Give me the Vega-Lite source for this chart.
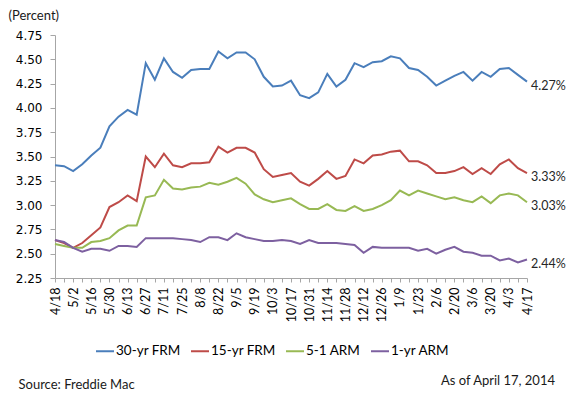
{
  "$schema": "https://vega.github.io/schema/vega-lite/v6.json",
  "width": 472,
  "height": 243,
  "autosize": {"type": "none"},
  "padding": {"left": 55, "top": 35, "right": 53, "bottom": 120},
  "background": "white",
  "config": {"view": {"stroke": null}, "font": "Lato"},
  "title": {
    "text": "As of April 17, 2014",
    "orient": "bottom",
    "anchor": "end",
    "frame": "group",
    "font": "Lato",
    "fontSize": 13,
    "fontWeight": "normal",
    "color": "#1a1a1a",
    "offset": 0,
    "dx": 28,
    "dy": -16
  },
  "data": {
    "values": [
      {"week": "4/18", "30-yr FRM": 3.41, "15-yr FRM": 2.64, "5-1 ARM": 2.60, "1-yr ARM": 2.64},
      {"week": "4/25", "30-yr FRM": 3.40, "15-yr FRM": 2.61, "5-1 ARM": 2.58, "1-yr ARM": 2.62},
      {"week": "5/2", "30-yr FRM": 3.35, "15-yr FRM": 2.56, "5-1 ARM": 2.56, "1-yr ARM": 2.56},
      {"week": "5/9", "30-yr FRM": 3.42, "15-yr FRM": 2.61, "5-1 ARM": 2.56, "1-yr ARM": 2.52},
      {"week": "5/16", "30-yr FRM": 3.51, "15-yr FRM": 2.69, "5-1 ARM": 2.62, "1-yr ARM": 2.55},
      {"week": "5/23", "30-yr FRM": 3.59, "15-yr FRM": 2.77, "5-1 ARM": 2.63, "1-yr ARM": 2.55},
      {"week": "5/30", "30-yr FRM": 3.81, "15-yr FRM": 2.98, "5-1 ARM": 2.66, "1-yr ARM": 2.53},
      {"week": "6/6", "30-yr FRM": 3.91, "15-yr FRM": 3.03, "5-1 ARM": 2.74, "1-yr ARM": 2.58},
      {"week": "6/13", "30-yr FRM": 3.98, "15-yr FRM": 3.10, "5-1 ARM": 2.79, "1-yr ARM": 2.58},
      {"week": "6/20", "30-yr FRM": 3.93, "15-yr FRM": 3.04, "5-1 ARM": 2.79, "1-yr ARM": 2.57},
      {"week": "6/27", "30-yr FRM": 4.46, "15-yr FRM": 3.50, "5-1 ARM": 3.08, "1-yr ARM": 2.66},
      {"week": "7/4", "30-yr FRM": 4.29, "15-yr FRM": 3.39, "5-1 ARM": 3.10, "1-yr ARM": 2.66},
      {"week": "7/11", "30-yr FRM": 4.51, "15-yr FRM": 3.53, "5-1 ARM": 3.26, "1-yr ARM": 2.66},
      {"week": "7/18", "30-yr FRM": 4.37, "15-yr FRM": 3.41, "5-1 ARM": 3.17, "1-yr ARM": 2.66},
      {"week": "7/25", "30-yr FRM": 4.31, "15-yr FRM": 3.39, "5-1 ARM": 3.16, "1-yr ARM": 2.65},
      {"week": "8/1", "30-yr FRM": 4.39, "15-yr FRM": 3.43, "5-1 ARM": 3.18, "1-yr ARM": 2.64},
      {"week": "8/8", "30-yr FRM": 4.40, "15-yr FRM": 3.43, "5-1 ARM": 3.19, "1-yr ARM": 2.62},
      {"week": "8/15", "30-yr FRM": 4.40, "15-yr FRM": 3.44, "5-1 ARM": 3.23, "1-yr ARM": 2.67},
      {"week": "8/22", "30-yr FRM": 4.58, "15-yr FRM": 3.60, "5-1 ARM": 3.21, "1-yr ARM": 2.67},
      {"week": "8/29", "30-yr FRM": 4.51, "15-yr FRM": 3.54, "5-1 ARM": 3.24, "1-yr ARM": 2.64},
      {"week": "9/5", "30-yr FRM": 4.57, "15-yr FRM": 3.59, "5-1 ARM": 3.28, "1-yr ARM": 2.71},
      {"week": "9/12", "30-yr FRM": 4.57, "15-yr FRM": 3.59, "5-1 ARM": 3.22, "1-yr ARM": 2.67},
      {"week": "9/19", "30-yr FRM": 4.50, "15-yr FRM": 3.54, "5-1 ARM": 3.11, "1-yr ARM": 2.65},
      {"week": "9/26", "30-yr FRM": 4.32, "15-yr FRM": 3.37, "5-1 ARM": 3.06, "1-yr ARM": 2.63},
      {"week": "10/3", "30-yr FRM": 4.22, "15-yr FRM": 3.29, "5-1 ARM": 3.03, "1-yr ARM": 2.63},
      {"week": "10/10", "30-yr FRM": 4.23, "15-yr FRM": 3.31, "5-1 ARM": 3.05, "1-yr ARM": 2.64},
      {"week": "10/17", "30-yr FRM": 4.28, "15-yr FRM": 3.33, "5-1 ARM": 3.07, "1-yr ARM": 2.63},
      {"week": "10/24", "30-yr FRM": 4.13, "15-yr FRM": 3.24, "5-1 ARM": 3.01, "1-yr ARM": 2.60},
      {"week": "10/31", "30-yr FRM": 4.10, "15-yr FRM": 3.20, "5-1 ARM": 2.96, "1-yr ARM": 2.64},
      {"week": "11/7", "30-yr FRM": 4.16, "15-yr FRM": 3.27, "5-1 ARM": 2.96, "1-yr ARM": 2.61},
      {"week": "11/14", "30-yr FRM": 4.35, "15-yr FRM": 3.35, "5-1 ARM": 3.01, "1-yr ARM": 2.61},
      {"week": "11/21", "30-yr FRM": 4.22, "15-yr FRM": 3.27, "5-1 ARM": 2.95, "1-yr ARM": 2.61},
      {"week": "11/28", "30-yr FRM": 4.29, "15-yr FRM": 3.30, "5-1 ARM": 2.94, "1-yr ARM": 2.60},
      {"week": "12/5", "30-yr FRM": 4.46, "15-yr FRM": 3.47, "5-1 ARM": 2.99, "1-yr ARM": 2.59},
      {"week": "12/12", "30-yr FRM": 4.42, "15-yr FRM": 3.43, "5-1 ARM": 2.94, "1-yr ARM": 2.51},
      {"week": "12/19", "30-yr FRM": 4.47, "15-yr FRM": 3.51, "5-1 ARM": 2.96, "1-yr ARM": 2.57},
      {"week": "12/26", "30-yr FRM": 4.48, "15-yr FRM": 3.52, "5-1 ARM": 3.00, "1-yr ARM": 2.56},
      {"week": "1/2", "30-yr FRM": 4.53, "15-yr FRM": 3.55, "5-1 ARM": 3.05, "1-yr ARM": 2.56},
      {"week": "1/9", "30-yr FRM": 4.51, "15-yr FRM": 3.56, "5-1 ARM": 3.15, "1-yr ARM": 2.56},
      {"week": "1/16", "30-yr FRM": 4.41, "15-yr FRM": 3.45, "5-1 ARM": 3.10, "1-yr ARM": 2.56},
      {"week": "1/23", "30-yr FRM": 4.39, "15-yr FRM": 3.45, "5-1 ARM": 3.15, "1-yr ARM": 2.53},
      {"week": "1/30", "30-yr FRM": 4.32, "15-yr FRM": 3.41, "5-1 ARM": 3.12, "1-yr ARM": 2.55},
      {"week": "2/6", "30-yr FRM": 4.23, "15-yr FRM": 3.33, "5-1 ARM": 3.09, "1-yr ARM": 2.50},
      {"week": "2/13", "30-yr FRM": 4.28, "15-yr FRM": 3.33, "5-1 ARM": 3.06, "1-yr ARM": 2.54},
      {"week": "2/20", "30-yr FRM": 4.33, "15-yr FRM": 3.35, "5-1 ARM": 3.08, "1-yr ARM": 2.57},
      {"week": "2/27", "30-yr FRM": 4.37, "15-yr FRM": 3.39, "5-1 ARM": 3.05, "1-yr ARM": 2.52},
      {"week": "3/6", "30-yr FRM": 4.28, "15-yr FRM": 3.32, "5-1 ARM": 3.03, "1-yr ARM": 2.51},
      {"week": "3/13", "30-yr FRM": 4.37, "15-yr FRM": 3.38, "5-1 ARM": 3.09, "1-yr ARM": 2.48},
      {"week": "3/20", "30-yr FRM": 4.32, "15-yr FRM": 3.32, "5-1 ARM": 3.02, "1-yr ARM": 2.48},
      {"week": "3/27", "30-yr FRM": 4.40, "15-yr FRM": 3.42, "5-1 ARM": 3.10, "1-yr ARM": 2.43},
      {"week": "4/3", "30-yr FRM": 4.41, "15-yr FRM": 3.47, "5-1 ARM": 3.12, "1-yr ARM": 2.45},
      {"week": "4/10", "30-yr FRM": 4.34, "15-yr FRM": 3.38, "5-1 ARM": 3.10, "1-yr ARM": 2.41},
      {"week": "4/17", "30-yr FRM": 4.27, "15-yr FRM": 3.33, "5-1 ARM": 3.03, "1-yr ARM": 2.44}
    ]
  },
  "transform": [
    {"fold": ["30-yr FRM", "15-yr FRM", "5-1 ARM", "1-yr ARM"], "as": ["series", "rate"]}
  ],
  "encoding": {
    "x": {
      "field": "week",
      "type": "ordinal",
      "scale": {
        "type": "point",
        "padding": 0,
        "domain": ["4/18","4/25","5/2","5/9","5/16","5/23","5/30","6/6","6/13","6/20","6/27","7/4","7/11","7/18","7/25","8/1","8/8","8/15","8/22","8/29","9/5","9/12","9/19","9/26","10/3","10/10","10/17","10/24","10/31","11/7","11/14","11/21","11/28","12/5","12/12","12/19","12/26","1/2","1/9","1/16","1/23","1/30","2/6","2/13","2/20","2/27","3/6","3/13","3/20","3/27","4/3","4/10","4/17"]
      },
      "axis": {
        "title": "Source: Freddie Mac",
        "titleX": -37,
        "titleY": 106,
        "titleAlign": "left",
        "titleAnchor": null,
        "titleBaseline": "middle",
        "titleFont": "Lato",
        "titleFontSize": 13,
        "titleFontWeight": "normal",
        "titleColor": "#1a1a1a",
        "labelAngle": -90,
        "labelFont": "Lato",
        "labelFontSize": 12.5,
        "labelColor": "#000000",
        "labelPadding": 5,
        "labelOverlap": false,
        "labelExpr": "indexof(['4/18','5/2','5/16','5/30','6/13','6/27','7/11','7/25','8/8','8/22','9/5','9/19','10/3','10/17','10/31','11/14','11/28','12/12','12/26','1/9','1/23','2/6','2/20','3/6','3/20','4/3','4/17'], datum.value) >= 0 ? datum.label : ''",
        "tickSize": 4,
        "tickColor": "#A6A6A6",
        "domainColor": "#A6A6A6",
        "grid": false
      }
    },
    "y": {
      "field": "rate",
      "type": "quantitative",
      "scale": {"domain": [2.25, 4.75], "nice": false, "zero": false},
      "axis": {
        "values": [2.25, 2.5, 2.75, 3, 3.25, 3.5, 3.75, 4, 4.25, 4.5, 4.75],
        "format": ".2f",
        "title": "(Percent)",
        "titleAngle": 0,
        "titleX": -47,
        "titleY": -20,
        "titleAlign": "left",
        "titleBaseline": "middle",
        "titleFont": "Lato",
        "titleFontSize": 13,
        "titleFontWeight": "normal",
        "titleColor": "#1a1a1a",
        "labelFont": "DejaVu Sans",
        "labelFontSize": 12,
        "labelColor": "#000000",
        "labelPadding": 8,
        "tickSize": 5,
        "tickColor": "#A6A6A6",
        "domainColor": "#A6A6A6",
        "grid": false
      }
    }
  },
  "layer": [
    {
      "mark": {"type": "line", "strokeWidth": 2},
      "encoding": {
        "color": {
          "field": "series",
          "type": "nominal",
          "scale": {
            "domain": ["30-yr FRM", "15-yr FRM", "5-1 ARM", "1-yr ARM"],
            "range": ["#4A7EBB", "#BE4B48", "#98B954", "#7D60A0"]
          },
          "legend": {
            "orient": "none",
            "legendX": 40,
            "legendY": 306,
            "direction": "horizontal",
            "title": null,
            "symbolType": "stroke",
            "symbolStrokeWidth": 2,
            "symbolSize": 324,
            "labelFont": "Lato",
            "labelFontSize": 13.5,
            "labelColor": "#000000",
            "labelOffset": 1,
            "columnPadding": 6,
            "padding": 0
          }
        }
      }
    },
    {
      "transform": [
        {"filter": "datum.week === '4/17'"},
        {"calculate": "format(datum.rate, '.2f') + '%'", "as": "label"}
      ],
      "mark": {"type": "text", "align": "left", "baseline": "middle", "dx": 4, "dy": 4, "font": "Lato", "fontSize": 12.5, "color": "#262626"},
      "encoding": {"text": {"field": "label"}}
    }
  ]
}
